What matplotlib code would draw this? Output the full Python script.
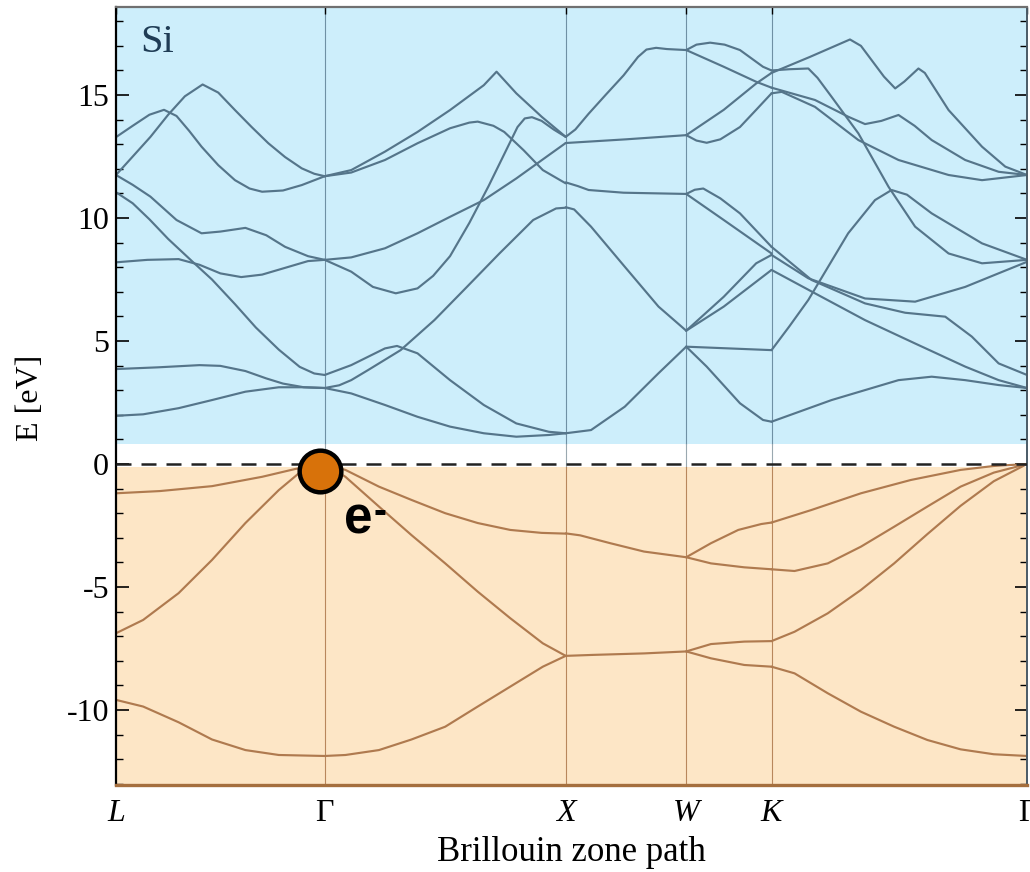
import matplotlib
matplotlib.use('Agg')
import matplotlib.pyplot as plt
from matplotlib.ticker import MultipleLocator

# ---- path / axes values ----
kpts = [0.0, 0.866, 1.866, 2.366, 2.720, 3.780]
klabels = ['L', 'Γ', 'X', 'W', 'K', 'Γ']
yticks = [-10, -5, 0, 5, 10, 15]
yticklabels = ['-10', '-5', '0', '5', '10', '15']

# each band piece: list of (t, E) where t = fraction along the segment
cond_LG = [
    [(0, 1.96), (0.13, 2.02), (0.3, 2.27), (0.46, 2.6), (0.62, 2.94), (0.78, 3.12), (0.9, 3.12), (1, 3.09)],
    [(0, 3.86), (0.2, 3.93), (0.4, 4.02), (0.5, 3.99), (0.62, 3.78), (0.72, 3.48), (0.8, 3.27), (0.9, 3.12), (1, 3.09)],
    [(0, 11.05), (0.08, 10.6), (0.16, 9.95), (0.25, 9.15), (0.37, 8.2), (0.46, 7.5), (0.57, 6.5), (0.67, 5.55),
     (0.78, 4.65), (0.88, 3.95), (0.95, 3.68), (1, 3.62)],
    [(0, 8.2), (0.15, 8.3), (0.3, 8.33), (0.4, 8.1), (0.5, 7.75), (0.6, 7.6), (0.7, 7.7), (0.82, 8.0), (0.92, 8.25), (1, 8.3)],
    [(0, 11.75), (0.08, 11.35), (0.165, 10.87), (0.29, 9.92), (0.41, 9.38), (0.5, 9.45), (0.62, 9.6), (0.72, 9.3),
     (0.81, 8.83), (0.92, 8.45), (1, 8.3)],
    [(0, 13.29), (0.08, 13.75), (0.16, 14.2), (0.23, 14.4), (0.29, 14.15), (0.35, 13.55), (0.41, 12.9), (0.49, 12.15),
     (0.57, 11.54), (0.64, 11.2), (0.7, 11.07), (0.8, 11.12), (0.89, 11.34), (1, 11.7)],
    [(0, 11.75), (0.08, 12.5), (0.165, 13.3), (0.25, 14.2), (0.33, 14.95), (0.415, 15.43), (0.49, 15.1), (0.57, 14.39),
     (0.65, 13.7), (0.73, 13.04), (0.81, 12.48), (0.89, 12.02), (0.95, 11.8), (1, 11.7)],
]
cond_GX = [
    [(0, 3.09), (0.11, 2.87), (0.25, 2.4), (0.385, 1.92), (0.52, 1.52), (0.66, 1.25), (0.795, 1.11), (0.93, 1.18), (1, 1.25)],
    [(0, 3.62), (0.11, 4.02), (0.25, 4.7), (0.3, 4.8), (0.385, 4.5), (0.52, 3.41), (0.66, 2.4), (0.795, 1.65), (0.93, 1.31), (1, 1.25)],
    [(0, 3.09), (0.06, 3.2), (0.11, 3.41), (0.18, 3.82), (0.315, 4.63), (0.455, 5.85), (0.59, 7.2), (0.725, 8.56),
     (0.865, 9.92), (0.96, 10.39), (1, 10.42)],
    [(0, 11.7), (0.11, 11.95), (0.25, 12.7), (0.385, 13.5), (0.52, 14.39), (0.66, 15.4), (0.713, 15.95), (0.795, 15.07),
     (0.9, 14.12), (1, 13.3)],
    [(0, 11.7), (0.11, 11.85), (0.25, 12.36), (0.385, 13.04), (0.52, 13.65), (0.6, 13.88), (0.635, 13.92), (0.7, 13.75),
     (0.745, 13.5), (0.825, 12.76), (0.905, 11.95), (1, 11.41)],
    [(0, 8.3), (0.11, 7.82), (0.2, 7.2), (0.295, 6.94), (0.385, 7.14), (0.45, 7.65), (0.52, 8.45), (0.6, 9.8), (0.68, 11.3),
     (0.75, 12.7), (0.8, 13.7), (0.83, 14.05), (0.86, 14.1), (0.9, 13.95), (0.95, 13.6), (1, 13.3)],
    [(0, 8.3), (0.11, 8.4), (0.25, 8.77), (0.385, 9.38), (0.52, 10.05), (0.66, 10.73), (0.795, 11.61), (0.93, 12.56), (1, 13.05)],
]
cond_XW = [
    [(0, 13.3), (0.08, 13.6), (0.19, 14.24), (0.33, 15.0), (0.48, 15.8), (0.6, 16.55), (0.67, 16.85), (0.75, 16.92),
     (0.84, 16.87), (1, 16.83)],
    [(0, 13.05), (0.5, 13.2), (1, 13.37)],
    [(0, 11.45), (0.1, 11.3), (0.19, 11.14), (0.48, 11.03), (1, 10.98)],
    [(0, 10.44), (0.07, 10.35), (0.21, 9.65), (0.49, 8.02), (0.77, 6.4), (1, 5.42)],
    [(0, 1.25), (0.21, 1.38), (0.49, 2.33), (0.77, 3.69), (1, 4.77)],
]
cond_WK = [
    [(0, 16.83), (0.12, 17.05), (0.28, 17.13), (0.45, 17.05), (0.63, 16.83), (0.9, 16.15), (1, 16.0)],
    [(0, 16.83), (0.44, 16.15), (0.82, 15.54), (1, 15.3)],
    [(0, 13.37), (0.44, 14.4), (0.82, 15.47), (1, 15.9)],
    [(0, 13.37), (0.12, 13.15), (0.24, 13.06), (0.4, 13.2), (0.63, 13.7), (0.82, 14.4), (1, 15.07)],
    [(0, 10.98), (0.1, 11.15), (0.2, 11.2), (0.4, 10.8), (0.63, 10.19), (1, 8.83)],
    [(0, 10.98), (0.44, 9.92), (1, 8.56)],
    [(0, 5.42), (0.44, 6.8), (0.82, 8.16), (1, 8.5)],
    [(0, 5.42), (0.44, 6.4), (1, 7.89)],
    [(0, 4.77), (1, 4.63)],
    [(0, 4.77), (0.24, 3.96), (0.63, 2.47), (0.9, 1.79), (1, 1.72)],
]
cond_KG = [
    [(0, 15.9), (0.15, 16.55), (0.307, 17.26), (0.35, 17.0), (0.44, 15.75), (0.484, 15.27), (0.52, 15.55), (0.575, 16.08),
     (0.6, 15.9), (0.693, 14.39), (0.824, 12.9), (0.915, 12.09), (1, 11.75)],
    [(0, 16.0), (0.07, 16.05), (0.144, 16.08), (0.18, 15.7), (0.235, 14.93), (0.34, 13.44), (0.458, 11.27), (0.562, 9.65),
     (0.693, 8.56), (0.824, 8.16), (1, 8.3)],
    [(0, 15.3), (0.17, 14.8), (0.3, 14.12), (0.366, 13.82), (0.43, 13.95), (0.497, 14.19), (0.56, 13.75), (0.627, 13.17),
     (0.758, 12.36), (0.889, 11.88), (1, 11.75)],
    [(0, 15.07), (0.04, 15.13), (0.17, 14.52), (0.34, 13.17), (0.497, 12.36), (0.693, 11.75), (0.824, 11.54), (1, 11.75)],
    [(0, 4.63), (0.07, 5.6), (0.144, 6.67), (0.3, 9.38), (0.405, 10.73), (0.47, 11.14), (0.53, 10.95), (0.627, 10.19),
     (0.824, 8.97), (1, 8.3)],
    [(0, 8.5), (0.144, 7.55), (0.366, 6.73), (0.562, 6.6), (0.758, 7.2), (0.9, 7.8), (1, 8.22)],
    [(0, 8.83), (0.157, 7.48), (0.366, 6.53), (0.523, 6.15), (0.68, 5.99), (0.784, 5.18), (0.889, 4.09), (1, 3.62)],
    [(0, 7.89), (0.17, 6.94), (0.366, 5.85), (0.562, 4.9), (0.758, 3.96), (0.889, 3.41), (1, 3.09)],
    [(0, 1.72), (0.235, 2.6), (0.497, 3.41), (0.627, 3.55), (0.758, 3.41), (0.889, 3.21), (1, 3.09)],
]

val_LG = [
    [(0, -1.19), (0.21, -1.1), (0.46, -0.9), (0.7, -0.52), (0.86, -0.2), (1, 0)],
    [(0, -6.88), (0.13, -6.34), (0.3, -5.25), (0.46, -3.9), (0.62, -2.4), (0.78, -1.06), (0.88, -0.35), (1, 0)],
    [(0, -9.59), (0.13, -9.86), (0.3, -10.5), (0.46, -11.2), (0.62, -11.63), (0.78, -11.83), (1, -11.87)],
]
val_GX = [
    [(0, 0), (0.086, -0.24), (0.225, -0.92), (0.36, -1.46), (0.5, -2.0), (0.635, -2.4), (0.77, -2.68), (0.9, -2.8), (1, -2.83)],
    [(0, 0), (0.086, -0.52), (0.225, -1.73), (0.36, -2.89), (0.5, -4.04), (0.635, -5.19), (0.77, -6.27), (0.905, -7.29), (1, -7.8)],
    [(0, -11.87), (0.086, -11.83), (0.225, -11.63), (0.36, -11.2), (0.5, -10.68), (0.635, -9.86), (0.77, -9.05),
     (0.905, -8.24), (1, -7.8)],
]
val_XW = [
    [(0, -2.82), (0.12, -2.9), (0.37, -3.22), (0.65, -3.56), (1, -3.79)],
    [(0, -7.8), (0.23, -7.76), (0.65, -7.7), (1, -7.62)],
]
val_WK = [
    [(0, -3.79), (0.29, -3.22), (0.61, -2.68), (0.88, -2.44), (1, -2.38)],
    [(0, -3.79), (0.29, -4.04), (0.68, -4.2), (1, -4.28)],
    [(0, -7.62), (0.29, -7.32), (0.68, -7.22), (1, -7.2)],
    [(0, -7.62), (0.29, -7.9), (0.68, -8.17), (1, -8.24)],
]
val_KG = [
    [(0, -2.38), (0.156, -1.87), (0.35, -1.19), (0.545, -0.65), (0.74, -0.24), (0.87, -0.08), (1, 0)],
    [(0, -4.28), (0.09, -4.35), (0.22, -4.04), (0.35, -3.36), (0.48, -2.55), (0.61, -1.73), (0.74, -0.92), (0.87, -0.35), (1, 0)],
    [(0, -7.2), (0.09, -6.82), (0.22, -6.07), (0.35, -5.12), (0.48, -4.04), (0.61, -2.85), (0.74, -1.7), (0.87, -0.7), (1, 0)],
    [(0, -8.24), (0.09, -8.51), (0.22, -9.32), (0.35, -10.07), (0.48, -10.68), (0.61, -11.22), (0.74, -11.6), (0.87, -11.8),
     (1, -11.87)],
]

cond_segments = [cond_LG, cond_GX, cond_XW, cond_WK, cond_KG]
val_segments = [val_LG, val_GX, val_XW, val_WK, val_KG]

# ---- style ----
BLUE_BG = '#CDEEFB'
ORANGE_BG = '#FDE6C6'
BLUE_LINE = '#55758A'
BROWN_LINE = '#AF7A4F'
SERIF = ['Liberation Serif', 'DejaVu Serif']

W, H = 1030, 872
fig = plt.figure(figsize=(W / 100, H / 100), dpi=100)
ax = fig.add_axes([116 / W, 1 - 785 / H, (1027 - 116) / W, (785 - 7) / H])

ymin, ymax = -13.05, 18.58
ax.set_xlim(kpts[0], kpts[-1])
ax.set_ylim(ymin, ymax)

ax.axhspan(0.81, ymax, color=BLUE_BG, zorder=0, lw=0)
ax.axhspan(ymin, -0.14, color=ORANGE_BG, zorder=0, lw=0)

# vertical lines at high-symmetry points
for k in kpts[1:-1]:
    ax.plot([k, k], [0.81, ymax], color='#6F90A4', lw=0.8, zorder=1)
    ax.plot([k, k], [-0.14, 0.81], color='#9AA8B0', lw=0.8, zorder=1)
    ax.plot([k, k], [ymin, -0.14], color='#B8875C', lw=0.8, zorder=1)


def draw(segments, color):
    for i, seg in enumerate(segments):
        k0, k1 = kpts[i], kpts[i + 1]
        for curve in seg:
            xs = [k0 + t * (k1 - k0) for t, _ in curve]
            ys = [e for _, e in curve]
            ax.plot(xs, ys, color=color, lw=1.55, solid_joinstyle='round', solid_capstyle='round', zorder=2)


draw(cond_segments, BLUE_LINE)
draw(val_segments, BROWN_LINE)

# VBM dashed line
ax.axhline(0, color='#222222', lw=1.8, dashes=(6, 4), zorder=3)

# marker at Gamma
ax.plot([0.846], [-0.3], marker='o', ms=30, mfc='#D8720A', mec='black', mew=3.2, zorder=5, clip_on=False)

# spines
ax.spines['left'].set_color('black')
ax.spines['left'].set_linewidth(1.6)
ax.spines['top'].set_color('#707070')
ax.spines['top'].set_linewidth(1.6)
ax.spines['right'].set_color('#4A5A66')
ax.spines['right'].set_linewidth(1.4)
ax.spines['bottom'].set_color('#A56F3E')
ax.spines['bottom'].set_linewidth(2.4)

# ticks
ax.set_yticks(yticks)
ax.set_yticklabels(yticklabels, fontsize=23, family=SERIF)
ax.yaxis.set_minor_locator(MultipleLocator(1))
ax.tick_params(axis='y', which='major', direction='in', length=9, width=1.2, pad=5, right=True, colors='black')
ax.tick_params(axis='y', which='minor', direction='in', length=5, width=1.0, right=True)
ax.set_xticks(kpts)
ax.set_xticklabels(klabels, fontsize=23, family=SERIF)
for lab in ax.get_xticklabels():
    if lab.get_text() != 'Γ':
        lab.set_fontstyle('italic')
ax.tick_params(axis='x', which='major', direction='in', length=5, width=1.0, pad=10, top=True, bottom=False)

# labels
fig.text(30 / W, 1 - 398 / H, 'E [eV]', rotation=90, ha='center', va='center', fontsize=23, family=SERIF)
fig.text(571 / W, 1 - 861 / H, 'Brillouin zone path', ha='center', va='baseline', fontsize=25, family=SERIF)
fig.text(140 / W, 1 - 52 / H, 'Si', ha='left', va='baseline', fontsize=29, family=SERIF, color='#1F3C55')
fig.text(344 / W, 1 - 533 / H, 'e', ha='left', va='baseline', fontsize=37, fontweight='bold',
         family=['Liberation Sans', 'DejaVu Sans'], color='black')
fig.text(380 / W, 1 - 523 / H, '-', ha='center', va='baseline', fontsize=28, fontweight='bold',
         family=['Liberation Sans', 'DejaVu Sans'], color='black')

fig.savefig('out.png', dpi=100)
